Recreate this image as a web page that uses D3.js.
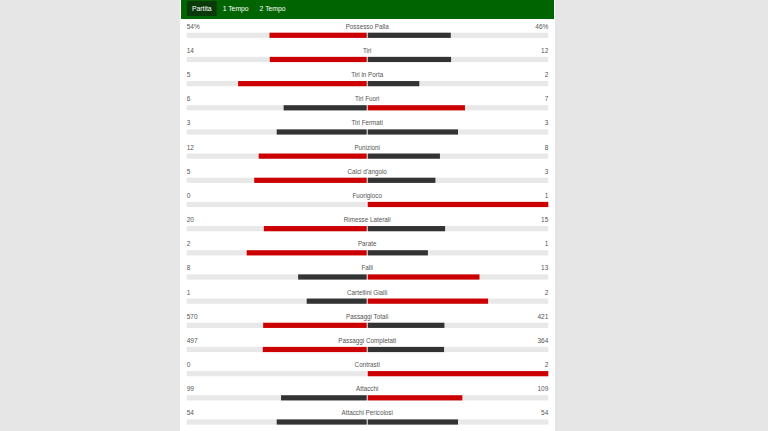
<!DOCTYPE html>
<html>
<head>
<meta charset="utf-8">
<script src="https://cdn.jsdelivr.net/npm/d3@7"></script>
<style>
  html, body { margin: 0; padding: 0; background: #e6e6e6; }
  svg { display: block; }
  text { font-family: "Liberation Sans", Arial, sans-serif; }
</style>
</head>
<body>
<svg id="root" width="768" height="431"></svg>
<script>
/* global d3 */

const tabs = ['Partita', '1 Tempo', '2 Tempo']
const statLabels = ['Possesso Palla', 'Tiri', 'Tiri in Porta', 'Tiri Fuori', 'Tiri Fermati', 'Punizioni',
  "Calci d'angolo", 'Fuorigioco', 'Rimesse Laterali', 'Parate', 'Falli', 'Cartellini Gialli',
  'Passaggi Totali', 'Passaggi Completati', 'Contrasti', 'Attacchi', 'Attacchi Pericolosi']
const homeValues = [54, 14, 5, 6, 3, 12, 5, 0, 20, 2, 8, 1, 570, 497, 0, 99, 54]
const awayValues = [46, 12, 2, 7, 3, 8, 3, 1, 15, 1, 13, 2, 421, 364, 2, 109, 54]
const percentRows = ['Possesso Palla']

const red = '#cc0000'
const dark = '#333333'
const track = '#e8e8e8'
const textColor = '#555'

const svg = d3.select('#root')

const panelLeft = 180
const panelRight = 555
const leftEdge = 186.7
const rightEdge = 548.3
const center = 367.2

// panel
svg.append('rect')
  .attr('x', panelLeft).attr('y', 0)
  .attr('width', panelRight - panelLeft).attr('height', 431)
  .attr('fill', '#fff')

// header
svg.append('rect')
  .attr('x', panelLeft + 1).attr('y', 0)
  .attr('width', panelRight - panelLeft - 2).attr('height', 19)
  .attr('fill', '#006400')

const activeBox = svg.append('rect')
  .attr('y', 1).attr('height', 15)
  .attr('fill', '#0a3a0a')

const tabText = svg.selectAll('.tab')
  .data(tabs)
  .enter()
  .append('text')
  .attr('class', 'tab')
  .attr('y', 11)
  .attr('fill', '#fff')
  .attr('font-size', '6.8px')
  .text(d => d)

// lay the tabs out one after another
let tx = 192
tabText.each(function (d, i) {
  const w = this.getComputedTextLength()
  d3.select(this).attr('x', tx)
  if (i === 0) activeBox.attr('x', tx - 5).attr('width', w + 10)
  tx += w + 11
})

const rows = statLabels.map((label, i) => ({ label, home: homeValues[i], away: awayValues[i] }))

const y = d3.scalePoint().domain(statLabels).range([32.7, 419.4])
const xLeft = d3.scaleLinear().domain([0, 1]).range([center - 0.5, leftEdge])
const xRight = d3.scaleLinear().domain([0, 1]).range([center + 0.5, rightEdge])
const barH = 5.2

const row = svg.selectAll('.row')
  .data(rows)
  .enter()
  .append('g')
  .attr('class', 'row')
  .attr('transform', d => 'translate(0,' + y(d.label) + ')')

// tracks
row.append('rect')
  .attr('x', leftEdge).attr('y', 0)
  .attr('width', xLeft(0) - leftEdge).attr('height', barH)
  .attr('fill', track)
row.append('rect')
  .attr('x', xRight(0)).attr('y', 0)
  .attr('width', rightEdge - xRight(0)).attr('height', barH)
  .attr('fill', track)

function share(v, d) {
  const total = d.home + d.away
  return total ? v / total : 0
}

row.append('rect')
  .attr('x', d => xLeft(share(d.home, d)))
  .attr('y', 0)
  .attr('width', d => xLeft(0) - xLeft(share(d.home, d)))
  .attr('height', barH)
  .attr('fill', d => d.home > d.away ? red : dark)

row.append('rect')
  .attr('x', xRight(0))
  .attr('y', 0)
  .attr('width', d => xRight(share(d.away, d)) - xRight(0))
  .attr('height', barH)
  .attr('fill', d => d.away > d.home ? red : dark)

const fmt = (v, d) => v + (percentRows.includes(d.label) ? '%' : '')

row.append('text')
  .attr('x', leftEdge)
  .attr('y', -4)
  .attr('font-size', '6.5px')
  .attr('fill', textColor)
  .text(d => fmt(d.home, d))

row.append('text')
  .attr('x', center)
  .attr('y', -4)
  .attr('text-anchor', 'middle')
  .attr('font-size', '6.3px')
  .attr('fill', textColor)
  .text(d => d.label)

row.append('text')
  .attr('x', rightEdge)
  .attr('y', -4)
  .attr('text-anchor', 'end')
  .attr('font-size', '6.5px')
  .attr('fill', textColor)
  .text(d => fmt(d.away, d))
</script>
</body>
</html>
